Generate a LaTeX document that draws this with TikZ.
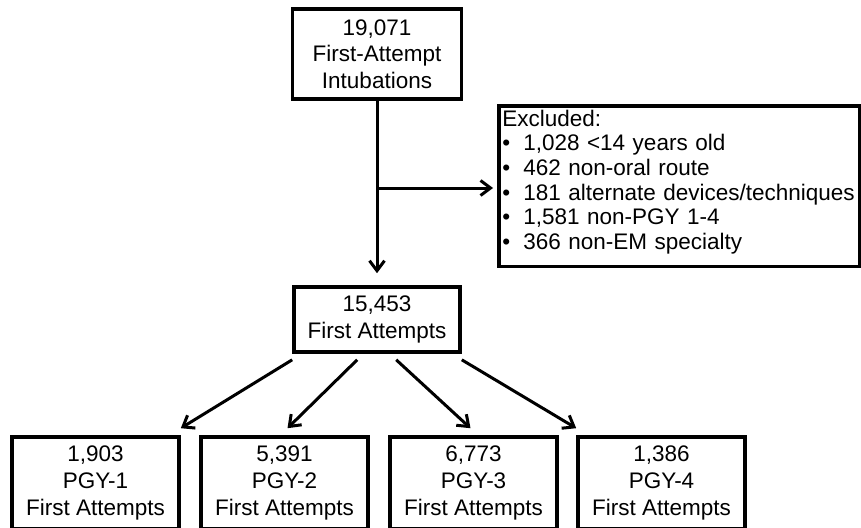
\documentclass[tikz,border=0pt]{standalone}
\usepackage{fontspec}
\setmainfont{Liberation Sans}
\usetikzlibrary{arrows.meta}

\tikzstyle{countbox} = [
rectangle,
minimum width=167pt,
inner sep=0pt,
text centered,
align=center,
draw=black,
line width=3.6pt,
font=\fontsize{22.5}{26.7}\selectfont,
execute at begin node={\rule{0pt}{22pt}}
]
\tikzstyle{excludebox} = [
rectangle,
anchor=north west,
text width=354pt,
inner xsep=3.5pt,
inner ysep=4pt,
align=left,
draw=black,
line width=3.6pt,
font=\fontsize{22.5}{24.7}\selectfont
]
\tikzstyle{arrow} = [
line width=3pt,
-{Straight Barb[length=10pt,width=15pt]}
]

\begin{document}
\begin{tikzpicture}[
x=1pt,
y=-1pt
]
\clip (0,0) rectangle (861,527);

% Nodes
\node (intub) [countbox, minimum width=169pt, minimum height=90pt] at (377,54)
{19,071\\First-Attempt\\Intubations};

\node (excl) [excludebox] at (497,104)
{Excluded:\\
\makebox[21pt][l]{\textbullet}1,028 <14 years old\\
\makebox[21pt][l]{\textbullet}462 non-oral route\\
\makebox[21pt][l]{\textbullet}181 alternate devices/techniques\\
\makebox[21pt][l]{\textbullet}1,581 non-PGY 1-4\\
\makebox[21pt][l]{\textbullet}366 non-EM specialty\rule[-13pt]{0pt}{13pt}};

\node (first) [countbox, minimum width=166pt, minimum height=65pt] at (377,319.5)
{15,453\\First Attempts};

\node (pgy1) [countbox, minimum height=92pt] at (95.5,483)
{1,903\\PGY-1\\First Attempts};
\node (pgy2) [countbox, minimum height=92pt] at (284.5,483)
{5,391\\PGY-2\\First Attempts};
\node (pgy3) [countbox, minimum height=92pt] at (473.5,483)
{6,773\\PGY-3\\First Attempts};
\node (pgy4) [countbox, minimum height=92pt] at (661.5,483)
{1,386\\PGY-4\\First Attempts};

\coordinate (branch) at (377,188);

% Arrows
\draw [arrow, shorten >=12pt] (intub) -- (first);
\draw [arrow, shorten >=4pt] (branch) -- (branch -| excl.west);
\draw [arrow] ([yshift=-6pt]first.south west) -- ([yshift=7pt]pgy1.north east);
\draw [arrow] ([shift={(65pt,-6pt)}]first.south west) -- ([shift={(3pt,7pt)}]pgy2.north);
\draw [arrow] ([shift={(104pt,-6pt)}]first.south west) -- ([shift={(-3pt,7pt)}]pgy3.north);
\draw [arrow] ([yshift=-6pt]first.south east) -- ([yshift=7pt]pgy4.north west);

\end{tikzpicture}
\end{document}
